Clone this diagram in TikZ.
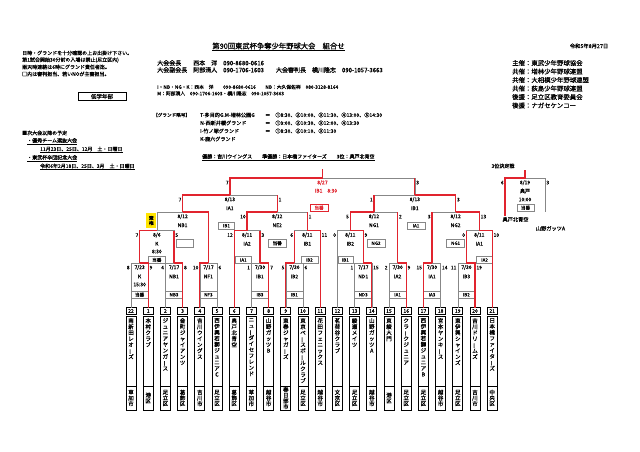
\documentclass[tikz,border=0pt]{standalone}
\usepackage{fontspec}
\usepackage{graphicx}
\setmainfont{Noto Sans CJK JP}[FakeBold=0.6]
\usetikzlibrary{calc}
\definecolor{rd}{RGB}{225,36,46}
\definecolor{gr}{RGB}{135,135,135}
\definecolor{yl}{RGB}{255,228,0}
\makeatletter
\def\tatebar{ー}
\newcommand\tate[2][5.4pt]{\vbox{\baselineskip=#1\lineskiplimit=-20pt\lineskip=0pt\@tfor\tchar:=#2\do{\ifx\tchar\tatebar\hbox to 7pt{\hss\rotatebox[origin=c]{90}{ー}\hss}\else\hbox to 7pt{\hss\tchar\hss}\fi}}}
\makeatother
\tikzset{
 gl/.style={draw=gr, line width=0.6pt},
 rl/.style={draw=rd, line width=1.25pt},
 dbox/.style={draw=gr, line width=0.5pt, inner sep=0pt, minimum height=7pt, font=\fontsize{4.6}{5}\selectfont},
 mtxt/.style={inner sep=0pt, font=\fontsize{5}{5}\selectfont},
 score/.style={inner sep=0pt, font=\fontsize{5}{5}\selectfont},
 numbox/.style={draw, line width=0.7pt, minimum width=10pt, minimum height=7pt, inner sep=0pt, font=\fontsize{5}{5}\selectfont},
 tname/.style={inner sep=0pt, font=\fontsize{5.5}{6}\selectfont},
 hd/.style={inner sep=0pt, anchor=west, font=\fontsize{5}{6}\selectfont},
}
\newcommand\team[5]{%
 \coordinate (#1) at (#2,307.5);
 \node[numbox] (#1n) at (#2,311) {#3};
 \draw[line width=0.7pt] (#2-5,316) rectangle (#2+5,410) (#2-5,386) -- (#2+5,386);
 \node[tname,anchor=north] (#1a) at (#2,318) {\tate[6pt]{#4}};
 \node[tname] (#1p) at (#2,398) {\tate[5.7pt]{#5}};
}
\newcommand\fr[7]{%
 \coordinate (#1) at (#4,263);
 \draw[gl] (#2) -- (#2 |- #1) -- (#3 |- #1) -- (#3);
 \node[mtxt] (#1a) at (#4,267.5) {#5};
 \node[mtxt] (#1b) at (#4,276.5) {#6};
 \node[dbox, minimum width=17.2pt] (#1d) at (#4,294.75) {#7};
}
\newcommand\sr[7]{%
 \coordinate (#1) at (#4,#5);
 \draw[gl] (#2) -- (#2 |- #1) -- (#3 |- #1) -- (#3);
 \node[mtxt] (#1a) at (#4,#5+4.6) {#6};
 \node[mtxt] (#1b) at (#4,#5+13.2) {#7};
}
\newcommand\scl[3]{\node[score,anchor=east] (#1) at ($(#2)+(-1.2,4.6)$) {#3};}
\newcommand\scr[3]{\node[score,anchor=west] (#1) at ($(#2)+(1.2,4.6)$) {#3};}
\begin{document}
\begin{tikzpicture}[x=1pt,y=-1pt]
\fill[white] (0,0) rectangle (640,452);
\useasboundingbox (0,0) rectangle (640,452);

% ---------- header ----------
\node[inner sep=0pt, font=\fontsize{7.3}{8}\selectfont] (ttl) at (278.5,46) {第90回東武杯争奪少年野球大会　組合せ};
\draw[line width=0.5pt] ([yshift=-1pt]ttl.south west) -- ([yshift=-1pt]ttl.south east);
\node[inner sep=0pt, font=\fontsize{5.3}{6}\selectfont] (date) at (589,46) {令和5年8月27日};

\node[hd] (n1) at (22,53) {日時・グランドを十分確認の上お出掛け下さい。};
\node[hd] (n2) at (22,60) {第1試合開始30分前の入場は禁止(足立区内)};
\node[hd] (n3) at (22,67) {雨天時連絡は6時にグランド責任者迄。};
\node[hd] (n4) at (22,74) {□内は審判担当、若いNOが主審担当。};
\node[draw, line width=0.8pt, minimum width=48pt, minimum height=8pt, inner sep=0pt, font=\fontsize{5.5}{6}\selectfont] (bu) at (102,96.5) {低学年部};

\node[hd, font=\fontsize{6}{7}\selectfont] (o1) at (157,63) {大会会長　　西本　洋　090-8680-0616};
\node[hd, font=\fontsize{6}{7}\selectfont] (o2) at (157,70) {大会副会長　阿部清人　090-1706-1603　　大会審判長　横川隆志　090-1057-3663};
\node[hd, font=\fontsize{4.8}{5}\selectfont] (o3) at (157,87) {I・NB・NG・K：西本　洋　　090-8680-0616　　NB：大久保佐祥　080-3128-8164};
\node[hd, font=\fontsize{4.8}{5}\selectfont] (o4) at (157,93.5) {M：阿部清人　090-1706-1603・横川隆志　090-1057-3663};

\node[hd, font=\fontsize{6.4}{7}\selectfont] (s1t) at (512,63) {主催：東武少年野球協会};
\node[hd, font=\fontsize{6.4}{7}\selectfont] (s2t) at (512,71.5) {共催：増林少年野球連盟};
\node[hd, font=\fontsize{6.4}{7}\selectfont] (s3t) at (512,80) {共催：大相模少年野球連盟};
\node[hd, font=\fontsize{6.4}{7}\selectfont] (s4t) at (512,88.5) {共催：荻島少年野球連盟};
\node[hd, font=\fontsize{6.4}{7}\selectfont] (s5t) at (512,97) {後援：足立区教育委員会};
\node[hd, font=\fontsize{6.4}{7}\selectfont] (s6t) at (512,105.5) {後援：ナガセケンコー};

\node[hd, font=\fontsize{4.6}{5}\selectfont] (g0) at (153,115) {【グランド略号】};
\node[hd, font=\fontsize{5.1}{6}\selectfont] (g1) at (200,115) {T-多目的G.M-増林公園G};
\node[hd, font=\fontsize{5.1}{6}\selectfont] (g1b) at (265,115) {＝　①8:30、②10:00、③11:30、④13:00、⑤14:30};
\node[hd, font=\fontsize{5.1}{6}\selectfont] (g2) at (200,123) {N-西新井橋グランド};
\node[hd, font=\fontsize{5.1}{6}\selectfont] (g2b) at (265,123) {＝　①9:00、②10:30、③12:00、④13:30};
\node[hd, font=\fontsize{5.1}{6}\selectfont] (g3) at (200,131) {I-竹ノ塚グランド};
\node[hd, font=\fontsize{5.1}{6}\selectfont] (g3b) at (265,131) {＝　①8:30、②10:10、③11:30};
\node[hd, font=\fontsize{5.1}{6}\selectfont] (g4) at (200,139) {K-鹿六グランド};

\node[hd] (res) at (202,156.5) {優勝：吉川ウイングス　　準優勝：日本橋ファイターズ　　3位：奥戸北青空};
\draw[line width=0.4pt] ([yshift=-1pt]res.south west) -- ([yshift=-1pt]res.south east);

\node[hd] (p0) at (22,133) {■次大会以降の予定};
\node[hd] (p1) at (27,140.5) {・優秀チーム選抜大会};
\draw[line width=0.4pt] ([yshift=-0.8pt]p1.south west) -- ([yshift=-0.8pt]p1.south east);
\node[hd] (p2) at (40,149) {11月23日、25日、12月　土・日曜日};
\draw[line width=0.4pt] ([yshift=-0.8pt]p2.south west) -- ([yshift=-0.8pt]p2.south east);
\node[hd] (p3) at (27,157.5) {・東武杯卒団記念大会};
\draw[line width=0.4pt] ([yshift=-0.8pt]p3.south west) -- ([yshift=-0.8pt]p3.south east);
\node[hd] (p4) at (40,166) {令和6年2月18日、25日、3月　土・日曜日};
\draw[line width=0.4pt] ([yshift=-0.8pt]p4.south west) -- ([yshift=-0.8pt]p4.south east);

% ---------- teams ----------
\team{t22}{131.0}{22}{南新田レオーズ}{草加市}
\team{t1}{148.2}{1}{本村クラブ}{港区}
\team{t2}{165.4}{2}{ジュニアヤンガース}{足立区}
\team{t3}{182.6}{3}{金町ジャイアンツ}{葛飾区}
\team{t4}{199.8}{4}{吉川ウイングス}{吉川市}
\team{t5}{217.0}{5}{西伊興若獅ジュニアC}{足立区}
\team{t6}{234.2}{6}{奥戸北青空}{葛飾区}
\team{t7}{251.4}{7}{ニューダイセフレンド}{草加市}
\team{t8}{268.6}{8}{山野ガッツB}{越谷市}
\team{t9}{285.8}{9}{東春ジャガーズ}{春日部市}
\team{t10}{303.0}{10}{東京ベースボールクラブ}{足立区}
\team{t11}{320.2}{11}{花田フェニックス}{越谷市}
\team{t12}{337.4}{12}{茗荷谷クラブ}{文京区}
\team{t13}{354.6}{13}{綾瀬メイツ}{足立区}
\team{t14}{371.8}{14}{山野ガッツA}{越谷市}
\team{t15}{389.0}{15}{東綾大門}{港区}
\team{t16}{406.2}{16}{クラークジュニア}{足立区}
\team{t17}{423.4}{17}{西伊興若獅ジュニアB}{足立区}
\team{t18}{440.6}{18}{宮本ヤンキース}{越谷市}
\team{t19}{457.8}{19}{東伊興シャインズ}{足立区}
\team{t20}{475.0}{20}{吉川ドリームズ}{吉川市}
\team{t21}{492.2}{21}{日本橋ファイターズ}{中央区}

% ---------- first round ----------
\fr{m1}{t22}{t1}{139.6}{7/23}{K}{当番}
\node[mtxt] (m1c) at (139.6,284.5) {15:30};
\fr{m2}{t2}{t3}{174.0}{7/17}{NB1}{NB3}
\fr{m3}{t4}{t5}{208.4}{7/17}{NF1}{NF3}
\fr{m4}{t7}{t8}{260.0}{7/30}{IB1}{IB3}
\fr{m5}{t9}{t10}{294.4}{7/30}{IB2}{IB1}
\fr{m6}{t13}{t14}{363.2}{7/17}{ND1}{ND3}
\fr{m7}{t15}{t16}{397.6}{7/30}{IA2}{IA1}
\fr{m8}{t17}{t18}{432.0}{7/30}{IA1}{IA3}
\fr{m9}{t19}{t20}{466.4}{7/30}{IB3}{IB2}
\scl{m1l}{t22 |- m1}{8}\scr{m1r}{t1 |- m1}{9}
\scl{m2l}{t2 |- m2}{4}\scr{m2r}{t3 |- m2}{8}
\scl{m3l}{t4 |- m3}{10}\scr{m3r}{t5 |- m3}{6}
\scl{m4l}{t7 |- m4}{1}\scr{m4r}{t8 |- m4}{7}
\scl{m5l}{t9 |- m5}{5}\scr{m5r}{t10 |- m5}{6}
\scl{m6l}{t13 |- m6}{1}\scr{m6r}{t14 |- m6}{15}
\scl{m7l}{t15 |- m7}{2}\scr{m7r}{t16 |- m7}{9}
\scl{m8l}{t17 |- m8}{15}\scr{m8r}{t18 |- m8}{14}
\scl{m9l}{t19 |- m9}{11}\scr{m9r}{t20 |- m9}{19}

% ---------- second round ----------
\sr{k86}{m1}{m2}{156.8}{230.5}{8/6}{K}
\node[mtxt] (k86c) at (156.8,251.5) {8:30};
\node[dbox, minimum width=17.2pt] (k86d) at (156.8,260) {当番};
\sr{ia2}{t6}{m4}{247.1}{230.5}{8/11}{IA2}
\node[dbox, minimum width=16.5pt] (ia2d) at (243.3,260) {IA1};
\sr{ib1}{m5}{t11}{307.3}{230.5}{8/11}{IB1}
\node[dbox, minimum width=17pt] (ib1d) at (309.3,260) {IB2};
\sr{ib2}{t12}{m6}{350.3}{230.5}{8/11}{IB2}
\node[dbox, minimum width=15pt] (ib2d) at (345.4,260) {IB1};
\sr{ia1}{m9}{t21}{479.3}{230.5}{8/11}{IA1}
\node[dbox, minimum width=16pt] (ia1d) at (484.6,260) {IA2};
\scl{k86l}{m1 |- k86}{7}\scr{k86r}{m2 |- k86}{5}
\scl{ia2l}{t6 |- ia2}{12}\scr{ia2r}{m4 |- ia2}{3}
\scl{ib1l}{m5 |- ib1}{6}\scr{ib1r}{t11 |- ib1}{11}
\scl{ib2l}{t12 |- ib2}{0}\scr{ib2r}{m6 |- ib2}{9}
\scl{ia1l}{m9 |- ia1}{0}\scr{ia1r}{t21 |- ia1}{10}

% ---------- 8/12 ----------
\sr{nb1}{k86}{m3}{182.6}{212}{8/12}{NB1}
\node[dbox, minimum width=17.5pt, minimum height=7.5pt] (nb1d) at (184.5,243.25) {};
\sr{ne2}{ia2}{ib1}{277.2}{212}{8/12}{NE2}
\node[dbox, minimum width=18pt, minimum height=7.5pt] (ne2d) at (277.2,243.25) {当番};
\sr{ng1}{ib2}{m7}{374.0}{212}{8/12}{NG1}
\node[dbox, minimum width=18pt, minimum height=7.5pt] (ng1d) at (376,243.25) {NG2};
\sr{ng2}{m8}{ia1}{455.6}{212}{8/12}{NG2}
\node[dbox, minimum width=18pt, minimum height=7.5pt] (ng2d) at (455.6,243.25) {NG1};
\scl{ne2l}{ia2 |- ne2}{10}\scr{ne2r}{ib1 |- ne2}{1}
\scl{ng1l}{ib2 |- ng1}{5}\scr{ng1r}{m7 |- ng1}{2}
\scl{ng2l}{m8 |- ng2}{3}\scr{ng2r}{ia1 |- ng2}{13}
\node[fill=yl, minimum width=10pt, minimum height=15pt, inner sep=0pt, align=center, font=\fontsize{4.6}{5}\selectfont] (kiken) at (151.3,220.5) {棄\\権};

% ---------- 8/13 ----------
\sr{sa}{nb1}{ne2}{229.9}{195}{8/13}{IA1}
\node[dbox, minimum width=16pt, minimum height=7.5pt] (sad) at (226.5,225.75) {IB1};
\sr{sb}{ng1}{ng2}{414.8}{195}{8/13}{IB1}
\node[dbox, minimum width=18pt, minimum height=7.5pt] (sbd) at (416,225.75) {IA1};
\scl{sal}{nb1 |- sa}{7}\scr{sar}{ne2 |- sa}{1}
\scl{sbl}{ng1 |- sb}{1}\scr{sbr}{ng2 |- sb}{3}

% ---------- final ----------
\coordinate (fin) at (322.4,178);
\coordinate (finTop) at (322.4,169);
\draw[gl] (sa) -- (sa |- fin) -- (sb |- fin) -- (sb);
\node[mtxt, text=rd] (fina) at (322.4,182.75) {8/27};
\node[mtxt, text=rd] (finb) at (326,190.75) {IB1　8:30};
\node[dbox, draw=rd, text=rd, minimum width=18pt, minimum height=7.5pt] (find) at (319,207.75) {当番};
\scl{finl}{sa |- fin}{7}\scr{finr}{sb |- fin}{3}

% ---------- third place ----------
\node[inner sep=0pt, font=\fontsize{5}{5}\selectfont] (th3) at (503,166) {3位決定戦};
\coordinate (th) at (525,178);
\coordinate (thTop) at (525,170);
\node[inner sep=0pt, font=\fontsize{5.2}{6}\selectfont] (thLn) at (515.5,219.5) {奥戸北青空};
\node[inner sep=0pt, font=\fontsize{5.2}{6}\selectfont] (thRn) at (550.5,228.5) {山野ガッツA};
\coordinate (thl) at (505,215.5);
\coordinate (thr) at (545,211.5);
\draw[gl] (thl) -- (thl |- th) -- (thr |- th) -- (thr);
\node[mtxt] (tha) at (525,182.75) {8/19};
\node[mtxt] (thb) at (525,191) {奥戸};
\node[mtxt] (thc) at (525,199.5) {10:00};
\node[dbox, minimum width=17pt, minimum height=7.5pt] (thd) at (525.5,207.75) {当番};
\scl{thsl}{thl |- th}{6}\scr{thsr}{thr |- th}{3}

% ---------- advancing lines (red) ----------
\draw[rl] (t1) -- (t1 |- m1) -- (m1);
\draw[rl] (t3) -- (t3 |- m2) -- (m2);
\draw[rl] (t4) -- (t4 |- m3) -- (m3);
\draw[rl] (t8) -- (t8 |- m4) -- (m4);
\draw[rl] (t9) -- (t9 |- m5) -- (m5);
\draw[rl] (t14) -- (t14 |- m6) -- (m6);
\draw[rl] (t16) -- (t16 |- m7) -- (m7);
\draw[rl] (t17) -- (t17 |- m8) -- (m8);
\draw[rl] (t20) -- (t20 |- m9) -- (m9);
\draw[rl] (m1) -- (m1 |- k86) -- (k86);
\draw[rl] (m2) -- (m2 |- k86);
\draw[rl] (t6) -- (t6 |- ia2) -- (ia2);
\draw[rl] (m4) -- (m4 |- ia2);
\draw[rl] (t11) -- (t11 |- ib1) -- (ib1);
\draw[rl] (m5) -- (m5 |- ib1);
\draw[rl] (m6) -- (m6 |- ib2) -- (ib2);
\draw[rl] (t21) -- (t21 |- ia1) -- (ia1);
\draw[rl] (m9) -- (m9 |- ia1);
\draw[rl] (m3) -- (m3 |- nb1) -- (nb1);
\draw[rl] (ia2) -- (ia2 |- ne2) -- (ne2);
\draw[rl] (ib1) -- (ib1 |- ne2);
\draw[rl] (ib2) -- (ib2 |- ng1) -- (ng1);
\draw[rl] (m7) -- (m7 |- ng1);
\draw[rl] (ia1) -- (ia1 |- ng2) -- (ng2);
\draw[rl] (m8) -- (m8 |- ng2);
\draw[rl] (nb1) -- (nb1 |- sa) -- (sa);
\draw[rl] (ne2) -- (ne2 |- sa);
\draw[rl] (ng2) -- (ng2 |- sb) -- (sb);
\draw[rl] (ng1) -- (ng1 |- sb);
\draw[rl] (sa) -- (sa |- fin) -- (fin) -- (finTop);
\draw[rl] (sb) -- (sb |- fin);
\draw[rl] (thl) -- (thl |- th) -- (th) -- (thTop);
\end{tikzpicture}
\end{document}
